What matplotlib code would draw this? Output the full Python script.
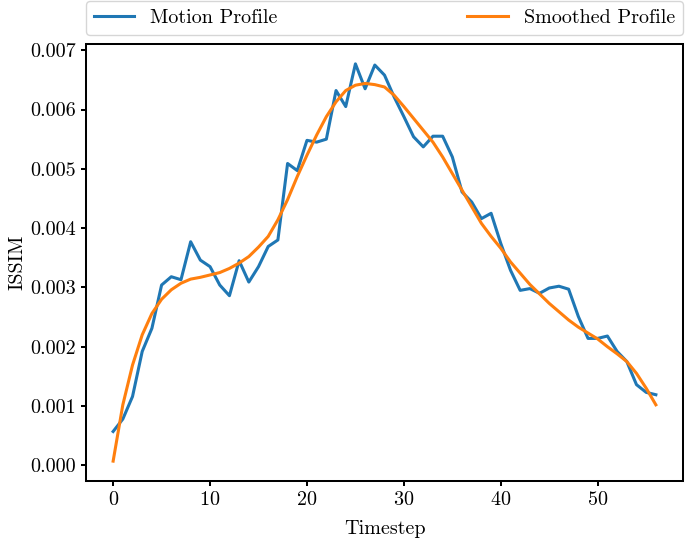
import numpy as np
import matplotlib
matplotlib.use('Agg')
import matplotlib.pyplot as plt

# motion profile (raw ISSIM per timestep) and the smoothed version, x1e-3
timestep = np.arange(57)
motion = [0.57, 0.78, 1.16, 1.92, 2.31, 3.04, 3.18, 3.13, 3.77, 3.46,
          3.35, 3.04, 2.86, 3.45, 3.09, 3.35, 3.69, 3.80, 5.09, 4.97,
          5.48, 5.45, 5.50, 6.32, 6.05, 6.77, 6.35, 6.75, 6.58, 6.21,
          5.88, 5.54, 5.37, 5.55, 5.55, 5.20, 4.61, 4.44, 4.16, 4.25,
          3.74, 3.29, 2.95, 2.98, 2.90, 2.99, 3.02, 2.97, 2.51, 2.14,
          2.14, 2.18, 1.92, 1.75, 1.36, 1.23, 1.19]
smoothed = [0.07, 1.02, 1.69, 2.20, 2.56, 2.80, 2.96, 3.07, 3.14, 3.17,
            3.21, 3.25, 3.32, 3.41, 3.52, 3.68, 3.86, 4.14, 4.48, 4.87,
            5.23, 5.57, 5.88, 6.13, 6.32, 6.41, 6.44, 6.42, 6.38, 6.24,
            6.05, 5.85, 5.65, 5.45, 5.20, 4.92, 4.64, 4.36, 4.08, 3.86,
            3.66, 3.43, 3.24, 3.05, 2.89, 2.73, 2.59, 2.45, 2.33, 2.23,
            2.13, 2.00, 1.88, 1.75, 1.55, 1.30, 1.02]

motion = np.array(motion) / 1000
smoothed = np.array(smoothed) / 1000

plt.rcParams['font.family'] = 'cmr10'
plt.rcParams['mathtext.fontset'] = 'cm'
plt.rcParams['axes.formatter.use_mathtext'] = True
plt.rcParams['font.size'] = 14.5
plt.rcParams['axes.linewidth'] = 1.45
plt.rcParams['xtick.major.width'] = 1.45
plt.rcParams['ytick.major.width'] = 1.45
plt.rcParams['xtick.major.size'] = 3.8
plt.rcParams['ytick.major.size'] = 3.8

fig, ax = plt.subplots(figsize=(6.85, 5.39), dpi=100)
fig.subplots_adjust(left=86/685, right=683/685, top=1-44/539, bottom=1-481/539)

ax.plot(timestep, motion, color='#1f77b4', lw=2.2, label='Motion Profile')
ax.plot(timestep, smoothed, color='#ff7f0e', lw=2.2, label='Smoothed Profile')
ax.set_xlabel('Timestep', labelpad=7.5)
ax.set_ylabel('ISSIM', labelpad=3)
yt = np.arange(0, 0.0071, 0.001)
ax.set_yticks(yt)
ax.set_yticklabels(['%.3f' % v for v in yt])
ax.legend(bbox_to_anchor=(0., 1.02, 1., .102), loc='lower left', ncol=2,
          mode='expand', borderaxespad=0.)

plt.savefig('out.png', dpi=100)
